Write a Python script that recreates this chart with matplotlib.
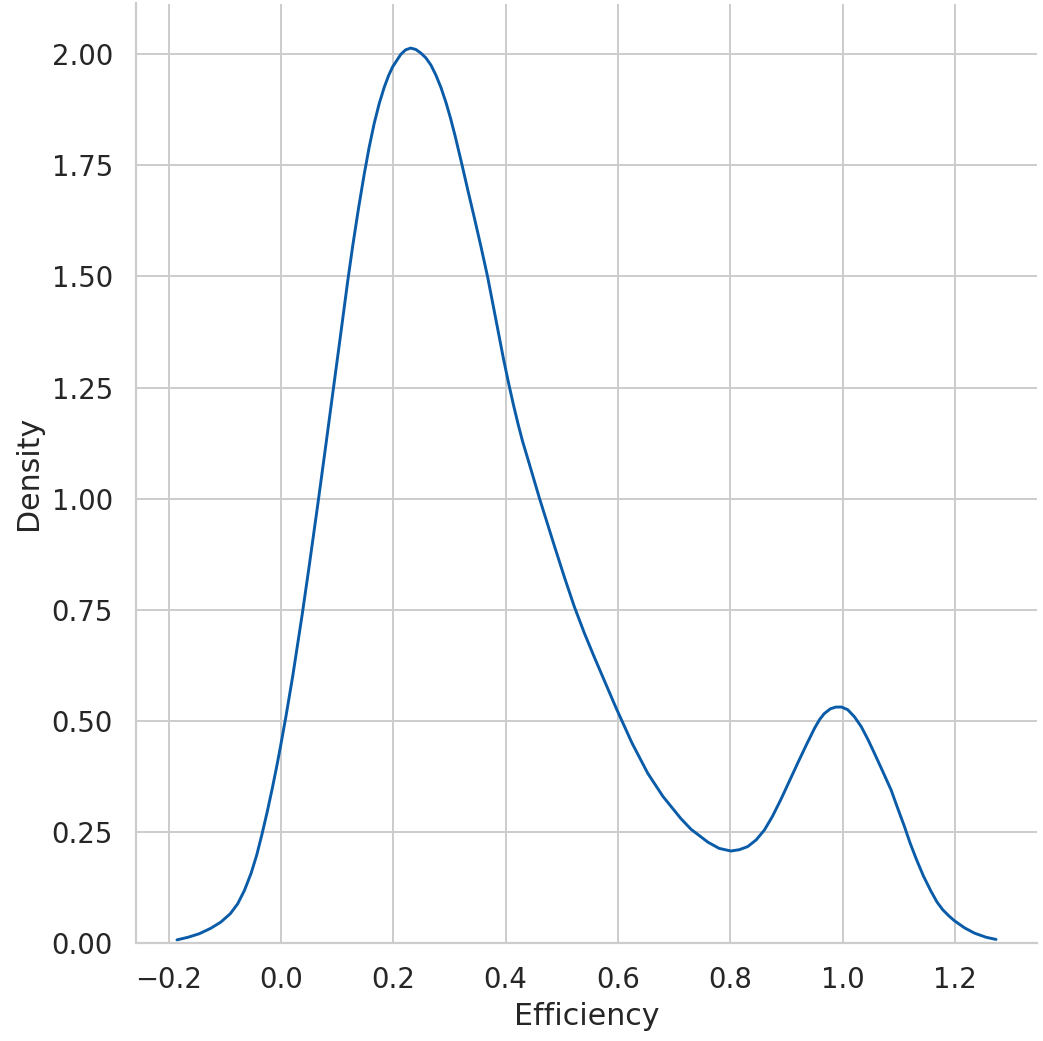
import matplotlib
matplotlib.use("Agg")
import matplotlib.pyplot as plt
import matplotlib.ticker as mticker

# Points (Efficiency, Density)
efficiency = [-0.185, -0.165, -0.145, -0.125, -0.107, -0.090, -0.077, -0.065, -0.053, -0.043,
              -0.034, -0.024, -0.015, -0.007, 0.000, 0.009, 0.021, 0.038, 0.050, 0.066,
              0.079, 0.092, 0.106, 0.119, 0.128, 0.138, 0.148, 0.157, 0.166, 0.175,
              0.184, 0.192, 0.199, 0.2135, 0.222, 0.231, 0.240, 0.249, 0.258, 0.267,
              0.276, 0.285, 0.294, 0.302, 0.310, 0.317, 0.323, 0.333, 0.344, 0.356,
              0.368, 0.378, 0.387, 0.396, 0.406, 0.414, 0.422, 0.430, 0.439, 0.460,
              0.487, 0.505, 0.522, 0.540, 0.558, 0.578, 0.597, 0.625, 0.653, 0.680,
              0.712, 0.730, 0.760, 0.780, 0.801, 0.816, 0.831, 0.846, 0.8605, 0.875,
              0.890, 0.905, 0.920, 0.935, 0.950, 0.959, 0.967, 0.978, 0.988, 0.998,
              1.009, 1.021, 1.033, 1.045, 1.0565, 1.071, 1.086, 1.098, 1.110, 1.120,
              1.131, 1.144, 1.157, 1.168, 1.178, 1.189, 1.199, 1.217, 1.235, 1.255,
              1.273]
density = [0.007, 0.013, 0.021, 0.033, 0.047, 0.066, 0.088, 0.118, 0.157, 0.198,
           0.243, 0.297, 0.350, 0.400, 0.447, 0.510, 0.600, 0.740, 0.845, 0.990,
           1.111, 1.234, 1.366, 1.490, 1.570, 1.652, 1.728, 1.790, 1.844, 1.889,
           1.926, 1.953, 1.972, 2.000, 2.010, 2.014, 2.011, 2.003, 1.992, 1.976,
           1.953, 1.925, 1.891, 1.856, 1.817, 1.780, 1.748, 1.693, 1.634, 1.568,
           1.499, 1.434, 1.375, 1.316, 1.256, 1.211, 1.169, 1.130, 1.092, 1.002,
           0.893, 0.822, 0.758, 0.698, 0.643, 0.584, 0.528, 0.450, 0.382, 0.330,
           0.280, 0.256, 0.227, 0.213, 0.207, 0.210, 0.217, 0.232, 0.254, 0.285,
           0.323, 0.364, 0.405, 0.445, 0.4835, 0.503, 0.516, 0.527, 0.531, 0.531,
           0.525, 0.509, 0.487, 0.458, 0.427, 0.387, 0.345, 0.303, 0.262, 0.225,
           0.189, 0.150, 0.117, 0.092, 0.075, 0.061, 0.050, 0.034, 0.022, 0.013,
           0.008]

x_label = "Efficiency"
y_label = "Density"

text_color = "#262626"
grid_color = "#cccccc"
line_color = "#0a5ca8"

fig = plt.figure(figsize=(10.43, 10.41), dpi=100)
ax = fig.add_axes([136 / 1043, 1 - 943 / 1041, (1037 - 136) / 1043, (943 - 3.5) / 1041])

ax.plot(efficiency, density, color=line_color, linewidth=2.1,
        solid_capstyle="round", solid_joinstyle="round")
ax.margins(x=0.05, y=0.05)
ax.set_ylim(bottom=0)

ax.grid(True, color=grid_color, linewidth=1.4)
ax.set_axisbelow(True)
for side in ("top", "right"):
    ax.spines[side].set_visible(False)
for side in ("left", "bottom"):
    ax.spines[side].set_color(grid_color)
    ax.spines[side].set_linewidth(1.6)

ax.tick_params(axis="both", length=0, pad=16.5, labelsize=19.8, labelcolor=text_color)
ax.yaxis.set_major_formatter(mticker.FormatStrFormatter("%.2f"))
ax.set_xlabel(x_label, fontsize=21.6, color=text_color, labelpad=6)
ax.set_ylabel(y_label, fontsize=21.6, color=text_color, labelpad=6)

fig.savefig("out.png", dpi=100, facecolor="white")
